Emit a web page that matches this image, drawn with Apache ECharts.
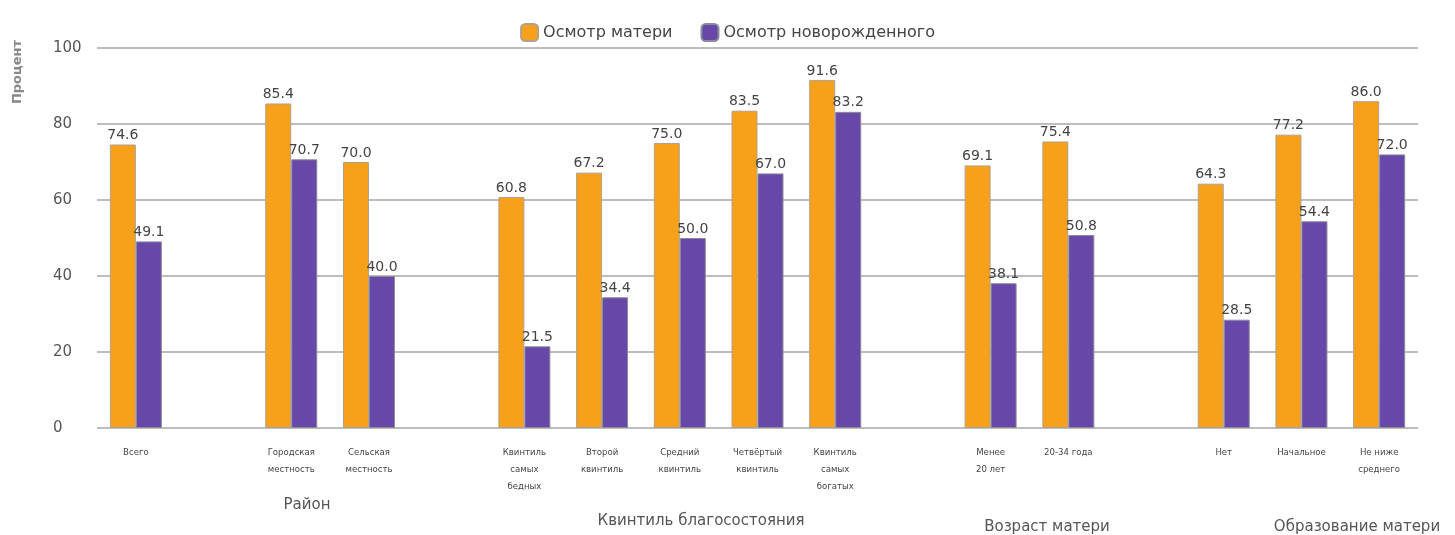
<!DOCTYPE html>
<html>
<head>
<meta charset="utf-8">
<script src="https://cdn.jsdelivr.net/npm/echarts@6/dist/echarts.min.js"></script>
<style>
  html, body { margin: 0; padding: 0; background: #fff; }
  #chart { width: 1455px; height: 535px; }
</style>
</head>
<body>
<div id="chart"></div>
<script>
// категории (пустые строки - промежутки между группами)
var categories = [
  'Всего', '',
  'Городская\nместность', 'Сельская\nместность', '',
  'Квинтиль\nсамых\nбедных', 'Второй\nквинтиль', 'Средний\nквинтиль', 'Четвёртый\nквинтиль', 'Квинтиль\nсамых\nбогатых', '',
  'Менее\n20 лет', '20-34 года', '',
  'Нет', 'Начальное', 'Не ниже\nсреднего'
]
var motherCheck = [74.6, null, 85.4, 70.0, null, 60.8, 67.2, 75.0, 83.5, 91.6, null, 69.1, 75.4, null, 64.3, 77.2, 86.0]
var babyCheck = [49.1, null, 70.7, 40.0, null, 21.5, 34.4, 50.0, 67.0, 83.2, null, 38.1, 50.8, null, 28.5, 54.4, 72.0]
var yTicks = [0, 20, 40, 60, 80, 100]

// подписи групп
var groupNames = ['Район', 'Квинтиль благосостояния', 'Возраст матери', 'Образование матери']
var groupPos = [[307, 505], [701, 521], [1047, 527], [1357, 527]]

var myChart = echarts.init(document.getElementById('chart'))

var labelOpt = {
  show: true,
  position: 'top',
  distance: 2,
  color: '#444',
  fontSize: 14,
  fontFamily: 'DejaVu Sans',
  formatter: function (p) { return p.value == null ? '' : p.value.toFixed(1) }
}

myChart.setOption({
  animation: false,
  textStyle: { fontFamily: 'DejaVu Sans' },
  legend: {
    top: 18,
    left: 'center',
    itemWidth: 17,
    itemHeight: 17,
    itemGap: 28,
    textStyle: { color: '#444', fontSize: 16, fontFamily: 'DejaVu Sans' },
    data: ['Осмотр матери', 'Осмотр новорожденного']
  },
  grid: { top: 48, left: 97, right: 37, bottom: 107 },
  xAxis: {
    type: 'category',
    data: categories,
    axisLine: { show: false },
    axisTick: { show: false },
    axisLabel: {
      interval: 0,
      color: '#444',
      fontSize: 9.5,
      lineHeight: 17,
      margin: 16,
      fontFamily: 'DejaVu Sans Condensed',
      align: 'center'
    }
  },
  yAxis: {
    type: 'value',
    min: yTicks[0],
    max: yTicks[yTicks.length - 1],
    interval: 20,
    axisLine: { show: false },
    axisTick: { show: false },
    axisLabel: { color: '#555', fontSize: 15, align: 'left', margin: 44, fontFamily: 'DejaVu Sans' },
    splitLine: { lineStyle: { color: '#bdbdbd', width: 2 } }
  },
  graphic: [{
    type: 'text',
    left: 11,
    top: 40,
    rotation: Math.PI / 2,
    style: { text: 'Процент', fill: '#888', fontSize: 13, fontWeight: 'bold', fontFamily: 'DejaVu Sans' }
  }].concat(groupNames.map(function (n, i) {
    return {
      type: 'text',
      x: groupPos[i][0],
      y: groupPos[i][1],
      style: { text: n, fill: '#555', fontSize: 15, align: 'center', verticalAlign: 'middle', fontFamily: 'DejaVu Sans' }
    }
  })),
  series: [{
    name: 'Осмотр матери',
    type: 'bar',
    barWidth: 26,
    barGap: '0%',
    itemStyle: { color: '#f7a11a', borderColor: '#b0a090', borderWidth: 1 },
    label: labelOpt,
    data: motherCheck
  }, {
    name: 'Осмотр новорожденного',
    type: 'bar',
    barWidth: 26,
    itemStyle: { color: '#6747a8', borderColor: '#8a8a9a', borderWidth: 1 },
    label: labelOpt,
    data: babyCheck
  }]
})
</script>
</body>
</html>
